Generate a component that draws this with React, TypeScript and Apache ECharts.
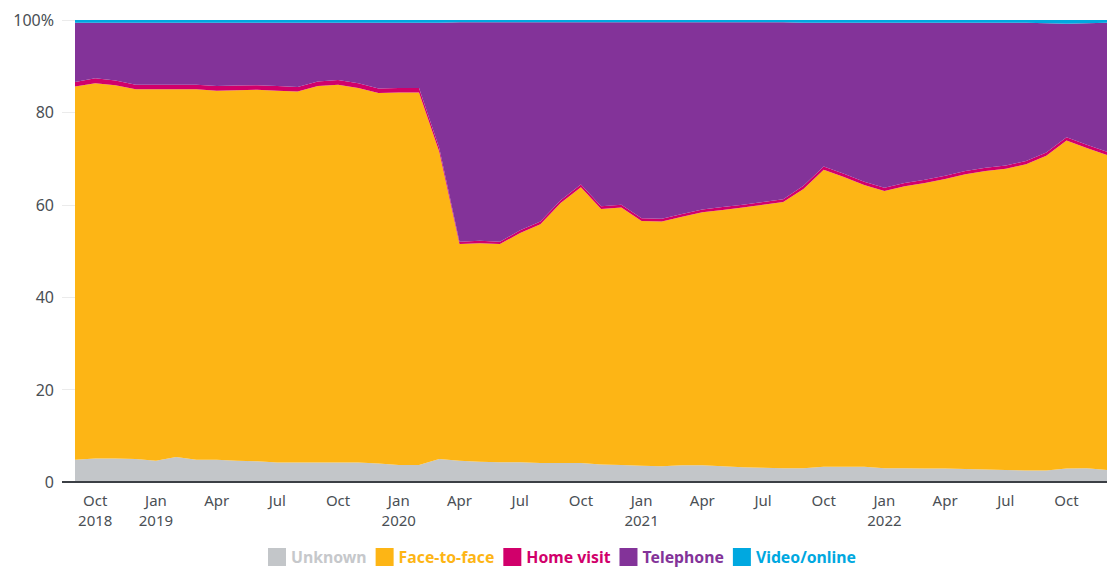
import React, { useEffect, useRef } from "react";
import * as echarts from "echarts";

const months = [
  "2018-09","2018-10","2018-11","2018-12",
  "2019-01","2019-02","2019-03","2019-04","2019-05","2019-06","2019-07","2019-08","2019-09","2019-10","2019-11","2019-12",
  "2020-01","2020-02","2020-03","2020-04","2020-05","2020-06","2020-07","2020-08","2020-09","2020-10","2020-11","2020-12",
  "2021-01","2021-02","2021-03","2021-04","2021-05","2021-06","2021-07","2021-08","2021-09","2021-10","2021-11","2021-12",
  "2022-01","2022-02","2022-03","2022-04","2022-05","2022-06","2022-07","2022-08","2022-09","2022-10","2022-11","2022-12",
];

const unknown = [
  4.8, 5.1, 5.1, 5.0,
  4.6, 5.4, 4.8, 4.8, 4.6, 4.5, 4.2, 4.2, 4.2, 4.2, 4.2, 4.0,
  3.7, 3.7, 5.0, 4.6, 4.4, 4.3, 4.3, 4.1, 4.1, 4.1, 3.8, 3.7,
  3.5, 3.4, 3.6, 3.6, 3.4, 3.2, 3.1, 3.0, 3.0, 3.3, 3.3, 3.3,
  3.0, 3.0, 2.9, 2.9, 2.8, 2.7, 2.6, 2.5, 2.5, 2.9, 3.0, 2.6,
];

const faceToFace = [
  80.8, 81.2, 80.8, 80.0,
  80.4, 79.6, 80.2, 79.9, 80.2, 80.4, 80.5, 80.3, 81.5, 81.8, 81.1, 80.2,
  80.6, 80.6, 66.5, 46.9, 47.3, 47.2, 49.6, 51.7, 56.3, 59.7, 55.3, 55.7,
  53.0, 53.0, 53.8, 54.8, 55.5, 56.2, 56.9, 57.6, 60.4, 64.3, 62.7, 61.0,
  60.0, 61.0, 61.8, 62.7, 63.8, 64.6, 65.2, 66.3, 68.1, 71.0, 69.3, 68.2,
];

const homeVisit = [
  1.0, 1.1, 1.0, 1.0,
  1.0, 1.0, 1.0, 1.0, 1.0, 1.0, 1.0, 1.0, 1.0, 1.0, 1.0, 1.0,
  1.0, 1.0, 0.8, 0.5, 0.5, 0.5, 0.6, 0.6, 0.6, 0.6, 0.6, 0.6,
  0.6, 0.6, 0.6, 0.6, 0.6, 0.6, 0.6, 0.6, 0.7, 0.7, 0.7, 0.7,
  0.7, 0.7, 0.7, 0.7, 0.7, 0.7, 0.7, 0.7, 0.7, 0.7, 0.7, 0.7,
];

const telephone = [
  12.8, 12.0, 12.5, 13.4,
  13.4, 13.4, 13.4, 13.7, 13.6, 13.5, 13.7, 13.9, 12.7, 12.4, 13.1, 14.2,
  14.1, 14.1, 27.1, 47.5, 47.3, 47.5, 45.0, 43.1, 38.5, 35.1, 39.8, 39.5,
  42.4, 42.5, 41.5, 40.5, 40.0, 39.5, 38.9, 38.3, 35.3, 31.1, 32.7, 34.4,
  35.7, 34.7, 34.0, 33.1, 32.1, 31.4, 30.9, 29.9, 28.0, 24.6, 26.3, 27.9,
];

const videoOnline = [
  0.6, 0.6, 0.6, 0.6,
  0.6, 0.6, 0.6, 0.6, 0.6, 0.6, 0.6, 0.6, 0.6, 0.6, 0.6, 0.6,
  0.6, 0.6, 0.6, 0.5, 0.5, 0.5, 0.5, 0.5, 0.5, 0.5, 0.5, 0.5,
  0.5, 0.5, 0.5, 0.5, 0.5, 0.5, 0.5, 0.5, 0.6, 0.6, 0.6, 0.6,
  0.6, 0.6, 0.6, 0.6, 0.6, 0.6, 0.6, 0.6, 0.7, 0.8, 0.7, 0.6,
];

const yTicks = [0, 20, 40, 60, 80, 100];
const monthNames = ["Jan","Feb","Mar","Apr","May","Jun","Jul","Aug","Sep","Oct","Nov","Dec"];

const seriesDefs = [
  { name: "Unknown", data: unknown, color: "#c3c6c9", text: "#c6c8cb" },
  { name: "Face-to-face", data: faceToFace, color: "#fdb515", text: "#fdb515" },
  { name: "Home visit", data: homeVisit, color: "#d1006b", text: "#d1006b" },
  { name: "Telephone", data: telephone, color: "#833399", text: "#833399" },
  { name: "Video/online", data: videoOnline, color: "#00a8e0", text: "#00a8e0" },
];

export default function App() {
  const ref = useRef<HTMLDivElement>(null);
  useEffect(() => {
    document.body.style.margin = "0";
    if (!ref.current) return;
    const chart = echarts.init(ref.current, null, { renderer: "svg" });
    const font = "'Noto Sans', 'Open Sans', sans-serif";
    chart.setOption({
      animation: false,
      textStyle: { fontFamily: font },
      grid: { left: 75, right: 0, top: 20, bottom: 85, containLabel: false },
      legend: {
        top: 548,
        left: 268,
        padding: 0,
        itemWidth: 18,
        itemHeight: 18,
        itemGap: 9,
        icon: "rect",
        data: seriesDefs.map((s) => ({
          name: s.name,
          textStyle: { color: s.text, fontWeight: "bold", fontSize: 15.8, fontFamily: font },
        })),
      },
      xAxis: {
        type: "category",
        boundaryGap: false,
        data: months,
        z: 10,
        axisLine: { show: true, lineStyle: { color: "#3b3f45", width: 2 } },
        axisTick: { show: false },
        axisLabel: {
          color: "#4a4f55",
          fontSize: 15,
          lineHeight: 20,
          margin: 8,
          interval: (index: number) => (index - 1) % 3 === 0,
          formatter: (value: string, index: number) => {
            const [y, m] = value.split("-");
            const mi = parseInt(m, 10) - 1;
            const name = monthNames[mi];
            if (mi === 0 || index === 1) return name + "\n" + y;
            return name;
          },
        },
      },
      yAxis: {
        type: "value",
        min: 0,
        max: 100,
        interval: 20,
        axisLine: { show: false },
        axisTick: { show: true, length: 13, lineStyle: { color: "#ebebeb" } },
        splitLine: { show: true, lineStyle: { color: "#ebebeb" } },
        axisLabel: {
          color: "#4a4f55",
          fontSize: 16,
          margin: 21,
          customValues: yTicks,
          formatter: (v: number) => (v === 100 ? "100%" : String(v)),
        },
      },
      graphic: [
        {
          type: "line",
          shape: { x1: 62, y1: 482, x2: 76, y2: 482 },
          style: { stroke: "#3b3f45", lineWidth: 2 },
          z: 100,
        },
      ],
      series: seriesDefs.map((s) => ({
        name: s.name,
        type: "line",
        stack: "total",
        data: s.data,
        showSymbol: false,
        symbol: "none",
        lineStyle: { width: 0, color: s.color },
        itemStyle: { color: s.color },
        areaStyle: { color: s.color, opacity: 1 },
      })),
    });
    return () => chart.dispose();
  }, []);
  return <div ref={ref} style={{ width: 1107, height: 567 }} />;
}
